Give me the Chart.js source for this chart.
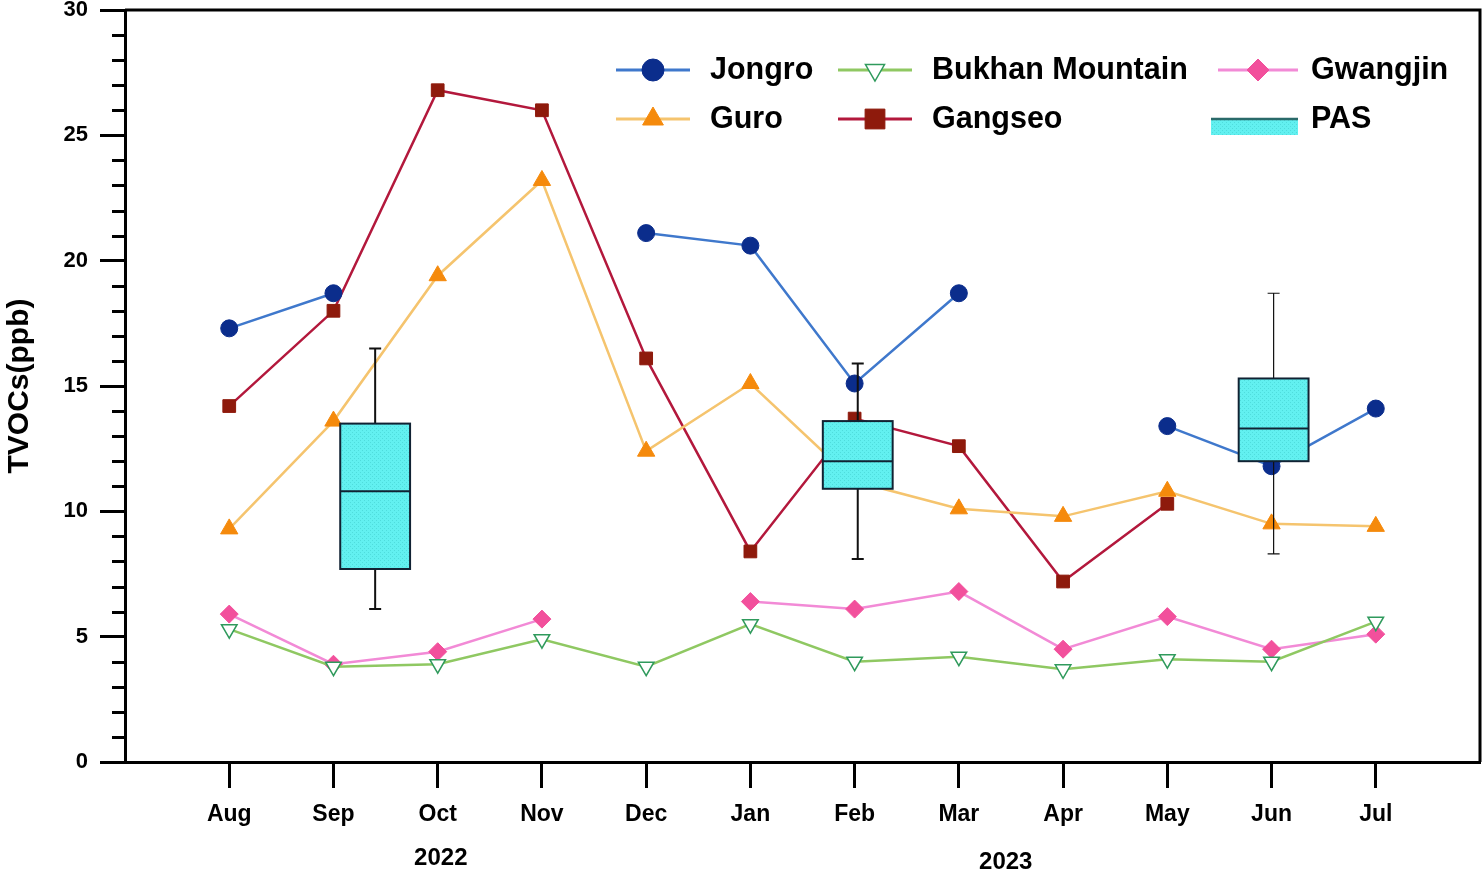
<!DOCTYPE html>
<html>
<head>
<meta charset="utf-8">
<script src="https://cdn.jsdelivr.net/npm/chart.js@4.4.1/dist/chart.umd.min.js"></script>
<style>
  body { margin: 0; background: #fff; }
  #wrap { width: 1483px; height: 876px; position: relative; }
</style>
</head>
<body>
<div id="wrap"><canvas id="tvocChart"></canvas></div>
<script>
// months on the x axis (positions 0..11)
const months = ['Aug', 'Sep', 'Oct', 'Nov', 'Dec', 'Jan', 'Feb', 'Mar', 'Apr', 'May', 'Jun', 'Jul'];

// TVOCs (ppb) per site, null = no sample
const jongro   = [17.3, 18.7, null, null, 21.1, 20.6, 15.1, 18.7, null, 13.4, 11.8, 14.1];
const guro     = [9.3, 13.6, 19.4, 23.2, 12.4, 15.1, 11.2, 10.1, 9.8, 10.8, 9.5, 9.4];
const bukhan   = [5.3, 3.8, 3.9, 4.9, 3.8, 5.5, 4.0, 4.2, 3.7, 4.1, 4.0, 5.6];
const gangseo  = [14.2, 18.0, 26.8, 26.0, 16.1, 8.4, 13.7, 12.6, 7.2, 10.3, null, null];
const gwangjin = [5.9, 3.9, 4.4, 5.7, null, 6.4, 6.1, 6.8, 4.5, 5.8, 4.5, 5.1];

// PAS box plots
const pasX   = [1.4, 6.03, 10.02];
const pasMin = [6.1, 8.1, 8.3];
const pasQ1  = [7.7, 10.9, 12.0];
const pasMed = [10.8, 12.0, 13.3];
const pasQ3  = [13.5, 13.6, 15.3];
const pasMax = [16.5, 15.9, 18.7];

const yearLabels = ['2022', '2023'];

const FONT = '"Liberation Sans", Arial, sans-serif';

function toPoints(arr) {
    return arr.map(function (v, i) { return { x: i, y: v }; });
}

// dotted cyan fill like the original box
function makePattern() {
    const c = document.createElement('canvas');
    c.width = 4; c.height = 4;
    const g = c.getContext('2d');
    g.fillStyle = '#62f0f0';
    g.fillRect(0, 0, 4, 4);
    g.fillStyle = '#4fdcdc';
    g.fillRect(0, 0, 1, 1);
    g.fillRect(2, 2, 1, 1);
    return g.createPattern(c, 'repeat');
}

const boxPlugin = {
    id: 'pasBoxes',
    afterDatasetsDraw(chart) {
        const ctx = chart.ctx;
        const x = chart.scales.x, y = chart.scales.y;
        const pattern = makePattern();
        const boxW = 0.67;
        const lw = [2, 2, 1.2];
        ctx.save();
        for (let i = 0; i < pasX.length; i++) {
            const cx = x.getPixelForValue(pasX[i]);
            const half = (x.getPixelForValue(pasX[i] + boxW / 2) - x.getPixelForValue(pasX[i] - boxW / 2)) / 2;
            const yMin = y.getPixelForValue(pasMin[i]);
            const yQ1 = y.getPixelForValue(pasQ1[i]);
            const yMed = y.getPixelForValue(pasMed[i]);
            const yQ3 = y.getPixelForValue(pasQ3[i]);
            const yMax = y.getPixelForValue(pasMax[i]);
            ctx.strokeStyle = '#111';
            ctx.lineWidth = lw[i];
            ctx.beginPath();
            ctx.moveTo(cx, yMax); ctx.lineTo(cx, yQ3);
            ctx.moveTo(cx, yQ1); ctx.lineTo(cx, yMin);
            ctx.moveTo(cx - 6, yMax); ctx.lineTo(cx + 6, yMax);
            ctx.moveTo(cx - 6, yMin); ctx.lineTo(cx + 6, yMin);
            ctx.stroke();
            ctx.fillStyle = pattern;
            ctx.fillRect(cx - half, yQ3, half * 2, yQ1 - yQ3);
            ctx.strokeStyle = '#123';
            ctx.lineWidth = 2;
            ctx.strokeRect(cx - half, yQ3, half * 2, yQ1 - yQ3);
            ctx.beginPath();
            ctx.moveTo(cx - half, yMed); ctx.lineTo(cx + half, yMed);
            ctx.stroke();
        }
        ctx.restore();
    }
};

const framePlugin = {
    id: 'frame',
    afterDraw(chart) {
        const ctx = chart.ctx;
        const a = chart.chartArea;
        const y = chart.scales.y, x = chart.scales.x;
        ctx.save();
        ctx.strokeStyle = '#000';
        ctx.lineWidth = 3;
        ctx.beginPath();
        ctx.moveTo(a.left, a.top); ctx.lineTo(a.right, a.top); ctx.lineTo(a.right, a.bottom);
        ctx.stroke();
        // minor ticks on y
        ctx.beginPath();
        for (let v = 1; v < 30; v++) {
            if (v % 5 === 0) continue;
            const py = Math.round(y.getPixelForValue(v)) + 0.5;
            ctx.moveTo(a.left - 13, py); ctx.lineTo(a.left, py);
        }
        ctx.stroke();
        // year labels
        ctx.fillStyle = '#000';
        ctx.font = 'bold 24px ' + FONT;
        ctx.textAlign = 'center';
        ctx.textBaseline = 'middle';
        ctx.fillText(yearLabels[0], x.getPixelForValue(2.03), 858);
        ctx.fillText(yearLabels[1], x.getPixelForValue(7.45), 862);

        // legend
        const ds = chart.data.datasets;
        const cols = [{ l0: 616, l1: 690, t: 710 }, { l0: 838, l1: 912, t: 932 }, { l0: 1218, l1: 1298, t: 1311 }];
        const rows = [70, 119];
        const items = [
            { d: 0, c: 0, r: 0, rad: 11 },
            { d: 1, c: 0, r: 1, rad: 12 },
            { d: 2, c: 1, r: 0, rad: 11 },
            { d: 3, c: 1, r: 1, rad: 14 },
            { d: 4, c: 2, r: 0, rad: 11 }
        ];
        ctx.font = 'bold 30.5px ' + FONT;
        ctx.textAlign = 'left';
        items.forEach(function (it) {
            const s = ds[it.d];
            const col = cols[it.c], ry = rows[it.r];
            ctx.strokeStyle = s.borderColor;
            ctx.lineWidth = 3;
            ctx.beginPath();
            ctx.moveTo(col.l0, ry); ctx.lineTo(col.l1, ry);
            ctx.stroke();
            ctx.fillStyle = s.pointBackgroundColor;
            ctx.strokeStyle = s.pointBorderColor;
            ctx.lineWidth = s.pointBorderWidth;
            Chart.helpers.drawPoint(ctx, {
                pointStyle: s.pointStyle,
                rotation: s.pointRotation || 0,
                radius: it.rad,
                borderWidth: s.pointBorderWidth
            }, (col.l0 + col.l1) / 2, ry);
            ctx.fillStyle = '#000';
            ctx.fillText(s.label, col.t, ry + 1);
        });
        // PAS legend swatch
        const c3 = cols[2];
        ctx.fillStyle = makePattern();
        ctx.fillRect(c3.l0 - 7, rows[1], c3.l1 - c3.l0 + 7, 16);
        ctx.strokeStyle = '#2a6a6a';
        ctx.lineWidth = 2.5;
        ctx.beginPath();
        ctx.moveTo(c3.l0 - 7, rows[1]); ctx.lineTo(c3.l1, rows[1]);
        ctx.stroke();
        ctx.fillStyle = '#000';
        ctx.fillText('PAS', c3.t, rows[1] + 1);
        ctx.restore();
    }
};

function lineSet(label, data, line, fill, stroke, style, radius, extra) {
    return Object.assign({
        label: label,
        data: toPoints(data),
        borderColor: line,
        borderWidth: 2.5,
        pointBackgroundColor: fill,
        pointBorderColor: stroke,
        pointBorderWidth: 1,
        pointStyle: style,
        pointRadius: radius,
        spanGaps: false,
        showLine: true
    }, extra || {});
}

const datasets = [
    lineSet('Jongro', jongro, '#3f78cc', '#0b2d8c', '#0b2d8c', 'circle', 8.5),
    lineSet('Guro', guro, '#f5c46e', '#f58a0c', '#f58a0c', 'triangle', 10),
    lineSet('Bukhan Mountain', bukhan, '#8fc862', '#ffffff', '#2f9a5c', 'triangle', 9, { pointRotation: 180, pointBorderWidth: 1.5 }),
    lineSet('Gangseo', gangseo, '#b3183c', '#8e1a0c', '#8e1a0c', 'rect', 9),
    lineSet('Gwangjin', gwangjin, '#f28ad6', '#f2509c', '#f2509c', 'rectRot', 9)
];

new Chart(document.getElementById('tvocChart'), {
    type: 'scatter',
    data: { datasets: datasets },
    options: {
        responsive: true,
        maintainAspectRatio: false,
        animation: false,
        layout: { autoPadding: false, padding: { top: 10, right: 3, left: 0, bottom: 0 } },
        plugins: { legend: { display: false }, tooltip: { enabled: false } },
        scales: {
            x: {
                type: 'linear',
                min: -1,
                max: 12,
                afterBuildTicks(scale) {
                    scale.ticks = months.map(function (m, i) { return { value: i }; });
                },
                afterFit(scale) {
                    scale.height = 114;
                    scale.paddingLeft = 0;
                    scale.paddingRight = 0;
                },
                ticks: {
                    callback: function (v) { return months[v]; },
                    color: '#000',
                    font: { family: FONT, size: 23, weight: 'bold' },
                    padding: 13,
                    maxRotation: 0,
                    autoSkip: false
                },
                grid: { drawOnChartArea: false, tickLength: 26, tickWidth: 3, tickColor: '#000' },
                border: { color: '#000', width: 3 }
            },
            y: {
                min: 0,
                max: 30,
                afterFit(scale) {
                    scale.width = 125;
                    scale.paddingTop = 0;
                    scale.paddingBottom = 0;
                },
                ticks: {
                    stepSize: 5,
                    color: '#000',
                    font: { family: FONT, size: 22, weight: 'bold' },
                    padding: 12
                },
                grid: { drawOnChartArea: false, tickLength: 25, tickWidth: 3, tickColor: '#000' },
                border: { color: '#000', width: 3 },
                title: {
                    display: true,
                    text: 'TVOCs(ppb)',
                    color: '#000',
                    font: { family: FONT, size: 30, weight: 'bold' },
                    padding: { top: 2, bottom: 0 }
                }
            }
        }
    },
    plugins: [boxPlugin, framePlugin]
});
</script>
</body>
</html>
